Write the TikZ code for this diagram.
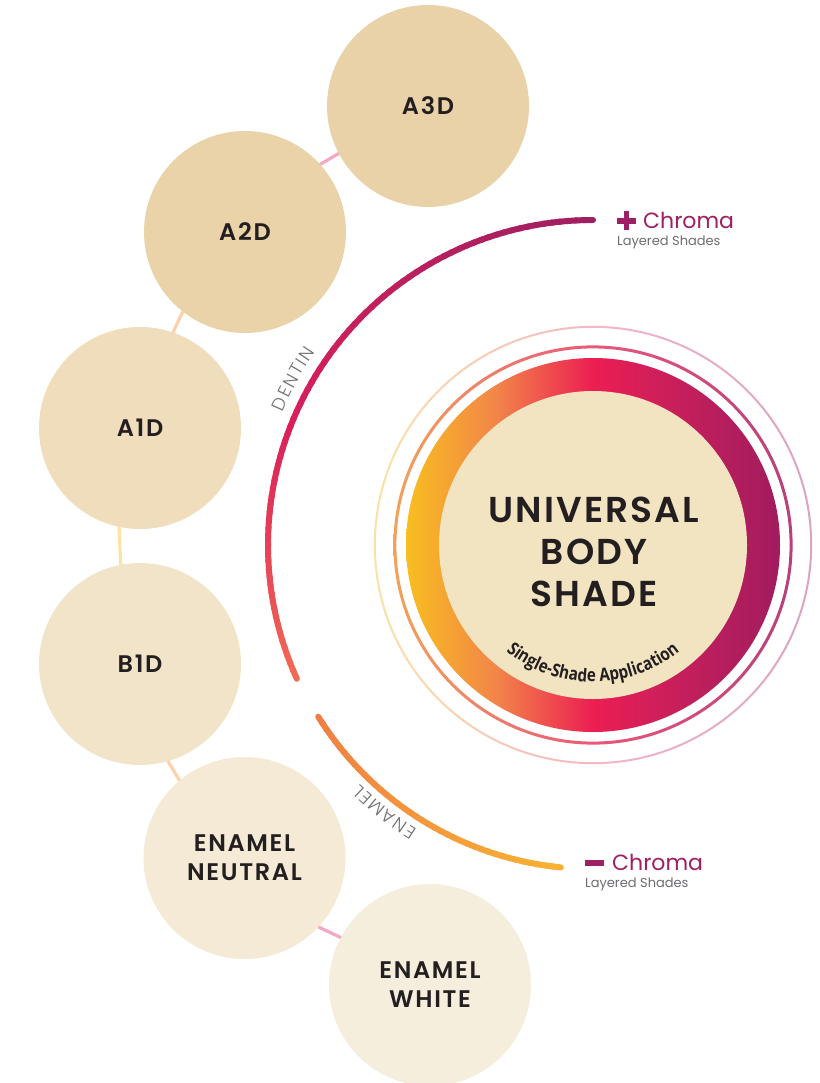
\documentclass[tikz,border=0pt]{standalone}
\usepackage{fontspec}
\setmainfont{Poppins}[BoldFont={Poppins SemiBold}]
\newfontfamily\lightfont{Poppins Light}
\newfontfamily\condfont[FakeStretch=0.85]{Open Sans}
\usetikzlibrary{decorations.text}

\definecolor{cA3}{HTML}{EAD2A8}
\definecolor{cA2}{HTML}{EAD3A9}
\definecolor{cA1}{HTML}{EFDDBB}
\definecolor{cB1}{HTML}{F2E4C8}
\definecolor{cEN}{HTML}{F4EAD5}
\definecolor{cEW}{HTML}{F5EEDD}
\definecolor{txt}{HTML}{231F20}
\definecolor{linkpink}{HTML}{F6A8C0}
\definecolor{linkpeach}{HTML}{FDD1A9}
\definecolor{linkyellow}{HTML}{FDE3A4}
\definecolor{mag}{HTML}{9E1F63}
\definecolor{gtxt}{HTML}{6D6E71}
\definecolor{lblgray}{HTML}{6F7073}
\definecolor{innerbeige}{HTML}{F2E3C1}
\definecolor{dmag}{HTML}{9E1F63}
\definecolor{dcrim}{HTML}{D91F5A}
\definecolor{dcoral}{HTML}{F26A55}
\definecolor{eorange}{HTML}{F07E45}
\definecolor{eyellow}{HTML}{F8B232}
\definecolor{ry}{HTML}{F8BE1F}
\definecolor{ro}{HTML}{F28549}
\definecolor{rp}{HTML}{EC1E53}
\definecolor{rc}{HTML}{C41F5C}
\definecolor{rm}{HTML}{A21C5E}
\definecolor{t1o}{HTML}{F3A25A}
\definecolor{t1p}{HTML}{E9587A}
\definecolor{t1m}{HTML}{B8407A}
\definecolor{t2y}{HTML}{FCE1A6}
\definecolor{t2p}{HTML}{F4B8C5}
\definecolor{t2m}{HTML}{DBA3C2}

\pgfdeclarehorizontalshading{ringgrad}{100bp}{color(0bp)=(ry); color(25bp)=(ry); color(37bp)=(ro); color(50bp)=(rp); color(62bp)=(rc); color(75bp)=(rm); color(100bp)=(rm)}
\pgfdeclarehorizontalshading{thinone}{100bp}{color(0bp)=(t1o); color(25bp)=(t1o); color(50bp)=(t1p); color(75bp)=(t1m); color(100bp)=(t1m)}
\pgfdeclarehorizontalshading{thintwo}{100bp}{color(0bp)=(t2y); color(25bp)=(t2y); color(50bp)=(t2p); color(75bp)=(t2m); color(100bp)=(t2m)}

\newcommand\arcsp{\kern1.8pt}

\tikzset{
  shadecirc/.style={circle, minimum size=202pt, inner sep=0pt, outer sep=0pt, align=center,
    text=txt, font=\bfseries\fontsize{24}{29}\selectfont\addfontfeature{LetterSpace=7}},
  linkline/.style={line width=3.2pt},
  arcseg/.style={line width=6pt, line cap=round},
  chromatxt/.style={anchor=base west, inner sep=0pt, text=mag, font=\fontsize{22}{22}\selectfont},
  layertxt/.style={anchor=base west, inner sep=0pt, text=gtxt, font=\fontsize{13}{13}\selectfont},
  signbar/.style={mag, line width=5.5pt}
}

\begin{document}
\begin{tikzpicture}[x=1pt,y=-1pt]
\useasboundingbox (0,0) rectangle (819,1083);
\fill[white] (0,0) rectangle (819,1083);
\coordinate (C) at (593,545);

% shade circles
\node[shadecirc, fill=cA3] (A3D) at (428,106) {A3D};
\node[shadecirc, fill=cA2] (A2D) at (245,232) {A2D};
\node[shadecirc, fill=cA1] (A1D) at (140,428) {A1D};
\node[shadecirc, fill=cB1] (B1D) at (140,664) {B1D};
\node[shadecirc, fill=cEN] (EN) at (244.5,858) {ENAMEL\\NEUTRAL};
\node[shadecirc, fill=cEW] (EW) at (430,985) {ENAMEL\\WHITE};

% links
\draw[linkline, linkpink] (A3D.208) -- (A2D.42);
\draw[linkline, linkpeach] (A2D.232) -- (A1D.71.4);
\draw[linkline, linkyellow] (A1D.258.6) -- (B1D.101.4);
\draw[linkline, linkpeach] (B1D.286.3) -- (EN.130.8);
\draw[linkline, linkpink] (EN.317.6) -- (EW.152.2);

% central rings
\shade[shading=thintwo, even odd rule] (C) circle[radius=219.2pt] (C) circle[radius=217.2pt];
\shade[shading=thinone, even odd rule] (C) circle[radius=199.6pt] (C) circle[radius=196.6pt];
\shade[shading=ringgrad] (C) circle[radius=187pt];
\fill[innerbeige] (C) circle[radius=154pt];

\node[align=center, text=txt, inner sep=0pt, font=\bfseries\fontsize{36}{42}\selectfont\addfontfeature{LetterSpace=6}] (ubs) at (594,552) {UNIVERSAL\\BODY\\SHADE};

\path[decorate, decoration={text along path, text align=center,
  text={|\condfont\bfseries\fontsize{18}{18}\selectfont\color{txt}|Single-Shade Application}}]
  ([shift={(140:137)}]C) arc[start angle=140, end angle=40, radius=137];

% dentin arc
\foreach \i in {0,...,79}{
  \pgfmathsetmacro{\aa}{-90-\i*114/80}
  \pgfmathsetmacro{\ab}{-90-(\i+1)*114/80-0.3}
  \ifnum\i<48
    \pgfmathtruncatemacro{\t}{100-\i*100/48}
    \colorlet{segc}{dmag!\t!dcrim}
  \else
    \pgfmathtruncatemacro{\t}{100-(\i-48)*100/32}
    \colorlet{segc}{dcrim!\t!dcoral}
  \fi
  \draw[arcseg, segc] ([shift={(\aa:325)}]C) arc[start angle=\aa, end angle=\ab, radius=325];
}
% enamel arc
\foreach \i in {0,...,39}{
  \pgfmathsetmacro{\aa}{148-\i*52/40}
  \pgfmathsetmacro{\ab}{148-(\i+1)*52/40-0.3}
  \pgfmathtruncatemacro{\t}{100-\i*100/40}
  \colorlet{segc}{eorange!\t!eyellow}
  \draw[arcseg, segc] ([shift={(\aa:324)}]C) arc[start angle=\aa, end angle=\ab, radius=324];
}

% arc labels
\path[decorate, decoration={text along path, text align=center,
  text={|\lightfont\fontsize{18}{18}\selectfont\color{lblgray}|{D\arcsp}{E\arcsp}{N\arcsp}{T\arcsp}{I\arcsp}N}}]
  ([shift={(194:338)}]C) arc[start angle=194, end angle=224, radius=338];
\path[decorate, decoration={text along path, text align=center,
  text={|\lightfont\fontsize{18}{18}\selectfont\color{lblgray}|{E\arcsp}{N\arcsp}{A\arcsp}{M\arcsp}{E\arcsp}L}}]
  ([shift={(113:334)}]C) arc[start angle=113, end angle=143, radius=334];

% chroma labels
\draw[signbar] (617,221) -- (636,221);
\draw[signbar] (626.5,211.5) -- (626.5,230.5);
\node[chromatxt] (chp) at (643,229) {Chroma};
\node[layertxt] (lsp) at (617,246) {Layered Shades};
\draw[signbar] (585,863) -- (604,863);
\node[chromatxt] (chm) at (612,870) {Chroma};
\node[layertxt] (lsm) at (585,887) {Layered Shades};
\end{tikzpicture}
\end{document}
